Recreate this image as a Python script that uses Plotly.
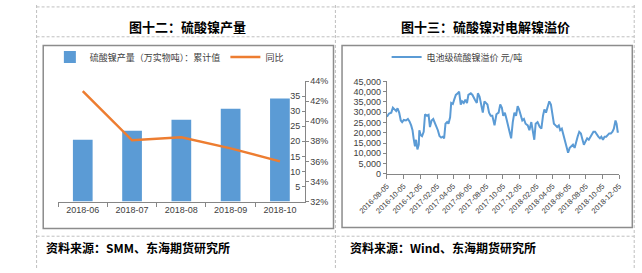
import plotly.graph_objects as go

W, H = 642, 273

# ---------------- data ----------------
months = ["2018-06", "2018-07", "2018-08", "2018-09", "2018-10"]
output_cum = [20.5, 23.5, 27.2, 30.8, 34.2]          # 万实物吨 累计值
output_yoy = [0.430, 0.381, 0.384, 0.373, 0.360]     # 同比

premium_dates = [
    "2016-08-05", "2016-08-13", "2016-08-21", "2016-08-27", "2016-09-02", "2016-09-08", "2016-09-13",
    "2016-09-19", "2016-09-25", "2016-09-30", "2016-10-06", "2016-10-14", "2016-10-21", "2016-10-27",
    "2016-11-02", "2016-11-07", "2016-11-11", "2016-11-16", "2016-11-20", "2016-11-25", "2016-11-30",
    "2016-12-02", "2016-12-07", "2016-12-12", "2016-12-18", "2016-12-23", "2016-12-30", "2017-01-05",
    "2017-01-10", "2017-01-16", "2017-01-22", "2017-01-27", "2017-02-03", "2017-02-08", "2017-02-14",
    "2017-02-20", "2017-02-26", "2017-03-03", "2017-03-08", "2017-03-14", "2017-03-19", "2017-03-25",
    "2017-03-29", "2017-04-04", "2017-04-09", "2017-04-15", "2017-04-22", "2017-04-27", "2017-05-03",
    "2017-05-08", "2017-05-14", "2017-05-20", "2017-05-26", "2017-05-31", "2017-06-09", "2017-06-15",
    "2017-06-24", "2017-07-01", "2017-07-05", "2017-07-11", "2017-07-17", "2017-07-23", "2017-07-29",
    "2017-08-09", "2017-08-15", "2017-08-21", "2017-08-27", "2017-09-04", "2017-09-11", "2017-09-19",
    "2017-09-25", "2017-10-01", "2017-10-06", "2017-10-12", "2017-10-18", "2017-10-24", "2017-10-30",
    "2017-11-04", "2017-11-10", "2017-11-16", "2017-11-22", "2017-11-28", "2017-12-03", "2017-12-09",
    "2017-12-15", "2017-12-21", "2017-12-27", "2018-01-04", "2018-01-10", "2018-01-17", "2018-01-22",
    "2018-01-28", "2018-02-02", "2018-02-09", "2018-02-17", "2018-02-23", "2018-03-01", "2018-03-06",
    "2018-03-12", "2018-03-18", "2018-03-24", "2018-03-30", "2018-04-04", "2018-04-10", "2018-04-16",
    "2018-04-22", "2018-04-28", "2018-05-03", "2018-05-09", "2018-05-15", "2018-05-21", "2018-05-26",
    "2018-06-01", "2018-06-07", "2018-06-13", "2018-06-19", "2018-06-25", "2018-06-30", "2018-07-06",
    "2018-07-12", "2018-07-18", "2018-07-24", "2018-07-29", "2018-08-04", "2018-08-10", "2018-08-16",
    "2018-08-22", "2018-08-28", "2018-09-02", "2018-09-08", "2018-09-14", "2018-09-20", "2018-09-26",
    "2018-10-01", "2018-10-07", "2018-10-13", "2018-10-19", "2018-10-24", "2018-10-30", "2018-11-05",
    "2018-11-11", "2018-11-16", "2018-11-22", "2018-11-26", "2018-11-30", "2018-12-04",
]
premium_values = [
    27800, 29400, 29800, 32200, 31400, 30600, 31900,
    29800, 26000, 25200, 26250, 26000, 26700, 25500,
    23600, 21250, 17300, 13400, 16600, 11900, 14200,
    21250, 18900, 18400, 20500, 29000, 28300, 28750,
    22800, 26000, 26700, 25200, 22800, 21250, 18400,
    17650, 18100, 17300, 24400, 25200, 24400, 27500,
    34500, 34000, 36100, 38400, 39200, 40000, 33750,
    35300, 34500, 36100, 34500, 38400, 39200, 38400,
    36100, 34500, 39200, 37650, 33750, 29800, 35300,
    33750, 29800, 28300, 28300, 23600, 29000, 29800,
    33750, 32200, 28300, 29800, 26700, 23600, 21250,
    17300, 25200, 29800, 28300, 33000, 31400, 28300,
    26000, 26700, 24400, 23600, 21250, 25200, 21250,
    16600, 24400, 25200, 22800, 22000, 28300, 31400,
    29800, 33000, 35300, 33750, 29000, 24400, 23600,
    22800, 23600, 21250, 22000, 18900, 15000, 12650,
    10300, 12650, 13400, 14200, 12650, 15800, 18100,
    20500, 19700, 16600, 14200, 15800, 17300, 16600,
    18100, 18900, 20500, 20500, 18900, 18100, 17300,
    18100, 16600, 18100, 18100, 18900, 19700, 19700,
    20500, 22000, 26000, 24400, 20500, 20500,
]
date_ticks = [
    "2016-08-05", "2016-10-05", "2016-12-05", "2017-02-05", "2017-04-05",
    "2017-06-05", "2017-08-05", "2017-10-05", "2017-12-05", "2018-02-05",
    "2018-04-05", "2018-06-05", "2018-08-05", "2018-10-05", "2018-12-05",
]

BLUE = "#5B9BD5"
ORANGE = "#ED7D31"
AXIS = "#868686"
TXT = "#404040"
FONT = "Liberation Sans, Noto Sans CJK SC, sans-serif"
CJK = "Noto Sans CJK SC, sans-serif"


def fx(px):
    return px / W


def fy(py):
    return 1 - py / H


fig = go.Figure()
fig.add_trace(go.Bar(
    x=months, y=output_cum, name="硫酸镍产量（万实物吨）：累计值",
    marker=dict(color=BLUE, line=dict(width=0)), xaxis="x", yaxis="y", legend="legend",
))
fig.add_trace(go.Scatter(
    x=months, y=output_yoy, name="同比", mode="lines",
    line=dict(color=ORANGE, width=2.5), xaxis="x", yaxis="y2", legend="legend",
))
fig.add_trace(go.Scatter(
    x=premium_dates, y=premium_values, name="电池级硫酸镍溢价 元/吨", mode="lines",
    line=dict(color=BLUE, width=2), xaxis="x2", yaxis="y3", legend="legend2",
))

axis_common = dict(showgrid=False, zeroline=False, showline=True, linecolor=AXIS, linewidth=1,
                   tickcolor=AXIS, tickfont=dict(family=FONT, size=9, color=TXT))

fig.update_layout(
    width=W, height=H, margin=dict(l=0, r=0, t=0, b=0),
    paper_bgcolor="white", plot_bgcolor="rgba(0,0,0,0)",
    font=dict(family=FONT, size=9, color=TXT),
    bargap=0.6,
    xaxis=dict(axis_common, domain=[fx(30.7), fx(290.5)], type="category", range=[-0.5, 4.5],
               tickson="boundaries", ticks="outside", ticklen=4, anchor="y"),
    yaxis=dict(axis_common, domain=[fy(204), fy(79)], range=[0, 40], dtick=5, side="right",
               ticklabelposition="inside", ticks="inside", ticklen=3, anchor="x"),
    yaxis2=dict(axis_common, domain=[fy(204), fy(79)], range=[0.32, 0.44], dtick=0.02,
                tickformat=".0%", side="right", overlaying="y", ticks="outside", ticklen=3, anchor="x"),
    xaxis2=dict(axis_common, domain=[fx(377.3), fx(622)], type="date",
                range=["2016-08-05", "2018-12-05"], tickvals=date_ticks, ticktext=date_ticks,
                tickangle=-45, ticks="outside", ticklen=4, anchor="y3",
                tickfont=dict(family=FONT, size=7.5, color=TXT)),
    yaxis3=dict(axis_common, domain=[fy(175.3), fy(79.3)], range=[0, 45000], dtick=5000,
                tickformat=",", ticks="outside", ticklen=3, anchor="x2"),
    legend=dict(orientation="h", x=fx(22), y=fy(39), xanchor="left", yanchor="top",
                font=dict(family=CJK, size=9, color=TXT), bgcolor="rgba(0,0,0,0)",
                traceorder="normal", itemwidth=30),
    legend2=dict(orientation="h", x=fx(377), y=fy(39), xanchor="left", yanchor="top",
                 font=dict(family=CJK, size=9, color=TXT), bgcolor="rgba(0,0,0,0)", itemwidth=30),
    showlegend=True,
)

# titles and sources
annos = [
    dict(text="<b>图十二：硫酸镍产量</b>", x=fx(167), y=fy(22)),
    dict(text="<b>图十三：硫酸镍对电解镍溢价</b>", x=fx(481), y=fy(22)),
]
for a in annos:
    fig.add_annotation(xref="paper", yref="paper", showarrow=False, xanchor="center", yanchor="middle",
                       font=dict(family=CJK, size=13, color="#000000"), **a)
for txt, x0 in [("<b>资料来源：SMM、东海期货研究所</b>", 16), ("<b>资料来源：Wind、东海期货研究所</b>", 336)]:
    fig.add_annotation(xref="paper", yref="paper", showarrow=False, xanchor="left", yanchor="middle",
                       text=txt, x=fx(x0), y=fy(252), font=dict(family=CJK, size=12, color="#000000"))

# dashed table lines
DASH = dict(color="#BFBFBF", width=1, dash="3px,2px")
for yy in [2, 33, 240]:
    fig.add_shape(type="line", xref="paper", yref="paper", x0=fx(8), x1=fx(638), y0=fy(yy), y1=fy(yy), line=DASH)
for xx in [8, 323, 638]:
    fig.add_shape(type="line", xref="paper", yref="paper", x0=fx(xx), x1=fx(xx), y0=fy(0), y1=fy(273), line=DASH)

# chart frames
FRAME = dict(color="#8C8C8C", width=1.5)
fig.add_shape(type="rect", xref="paper", yref="paper", x0=fx(15), x1=fx(321), y0=fy(232), y1=fy(42), line=FRAME)
fig.add_shape(type="rect", xref="paper", yref="paper", x0=fx(330), x1=fx(636), y0=fy(231), y1=fy(42), line=FRAME)

fig.write_html("out.html")
